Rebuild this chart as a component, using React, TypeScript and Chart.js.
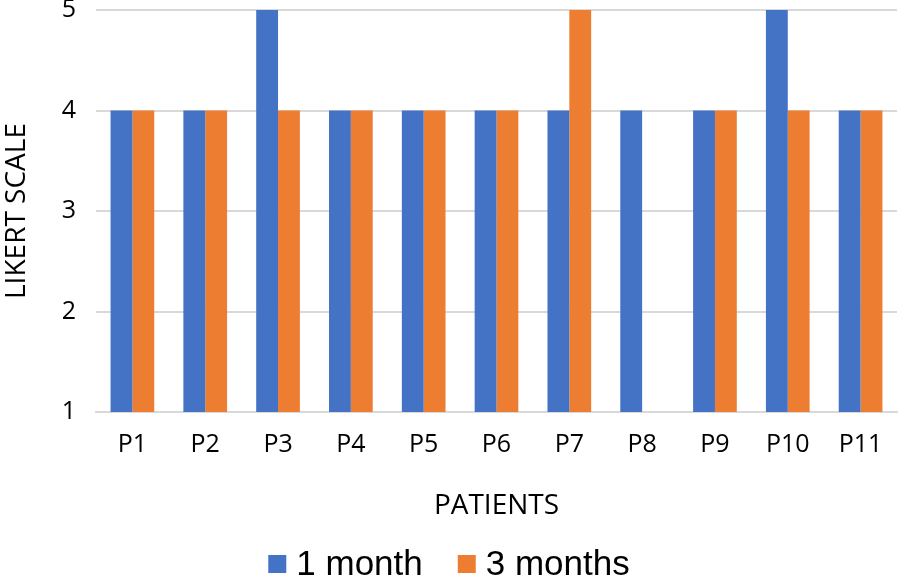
import React, { useEffect, useRef } from "react";
import { Chart, registerables } from "chart.js";

Chart.register(...registerables);

const categories = ["P1", "P2", "P3", "P4", "P5", "P6", "P7", "P8", "P9", "P10", "P11"];
const oneMonth = [4, 4, 5, 4, 4, 4, 4, 4, 4, 5, 4];
const threeMonths = [4, 4, 4, 4, 4, 4, 5, null, 4, 4, 4];
const yTicks = [1, 2, 3, 4, 5];

const legendFont = "35px 'Liberation Sans', Arial, sans-serif";

const customLegend = {
  id: "customLegend",
  afterDraw(chart: any) {
    const ctx = chart.ctx;
    ctx.save();
    ctx.font = legendFont;
    ctx.textBaseline = "middle";
    ctx.textAlign = "left";
    const box = 18;
    const gap = 10;
    const spacing = 35;
    const items = chart.data.datasets.map((d: any) => ({
      text: d.label,
      color: d.backgroundColor,
      w: ctx.measureText(d.label).width,
    }));
    let total = 0;
    items.forEach((it: any, i: number) => {
      total += box + gap + it.w + (i > 0 ? spacing : 0);
    });
    let x = chart.width / 2 - total / 2 - 3;
    const cy = 564;
    items.forEach((it: any) => {
      ctx.fillStyle = it.color;
      ctx.fillRect(x, cy - box / 2, box, box);
      ctx.fillStyle = "#000";
      ctx.fillText(it.text, x + box + gap, cy + 1);
      x += box + gap + it.w + spacing;
    });
    ctx.restore();
  },
};

export default function App() {
  const ref = useRef<HTMLCanvasElement>(null);
  useEffect(() => {
    if (!ref.current) return;
    const chart = new Chart(ref.current, {
      type: "bar",
      data: {
        labels: categories,
        datasets: [
          { label: "1 month", data: oneMonth, backgroundColor: "#4472C4" },
          { label: "3 months", data: threeMonths as any, backgroundColor: "#ED7D31" },
        ],
      },
      plugins: [customLegend],
      options: {
        responsive: false,
        animation: false,
        layout: { padding: { left: 0, right: 7, top: 10, bottom: 44 } },
        datasets: { bar: { categoryPercentage: 0.6, barPercentage: 1 } } as any,
        plugins: {
          tooltip: { enabled: false },
          legend: { display: false },
        },
        scales: {
          x: {
            grid: { display: false },
            border: { color: "#D9D9D9", width: 2 },
            ticks: { font: { family: "'Open Sans', sans-serif", size: 25 }, color: "#000", padding: 10 },
            afterFit: (axis: any) => {
              axis.height = 129;
            },
            title: {
              display: true,
              text: "PATIENTS",
              font: { family: "'Open Sans', sans-serif", size: 28 },
              color: "#000",
              padding: { top: 0, bottom: 18 },
            },
          },
          y: {
            min: 1,
            max: 5,
            afterBuildTicks: (axis: any) => {
              axis.ticks = yTicks.map((v) => ({ value: v }));
            },
            afterFit: (axis: any) => {
              axis.width = 96;
              axis.paddingTop = 0;
              axis.paddingBottom = 0;
            },
            grid: { color: "#D9D9D9", lineWidth: 2, drawTicks: false },
            border: { display: false },
            ticks: { font: { family: "'Open Sans', sans-serif", size: 25 }, color: "#000", padding: 20 },
            title: {
              display: true,
              text: "LIKERT SCALE",
              font: { family: "'Open Sans', sans-serif", size: 28 },
              color: "#000",
              padding: 0,
            },
          },
        },
      },
    });
    return () => chart.destroy();
  }, []);
  return (
    <div style={{ position: "absolute", left: 0, top: 0, width: 904, height: 585, background: "#fff" }}>
      <canvas ref={ref} width={904} height={585} />
    </div>
  );
}
